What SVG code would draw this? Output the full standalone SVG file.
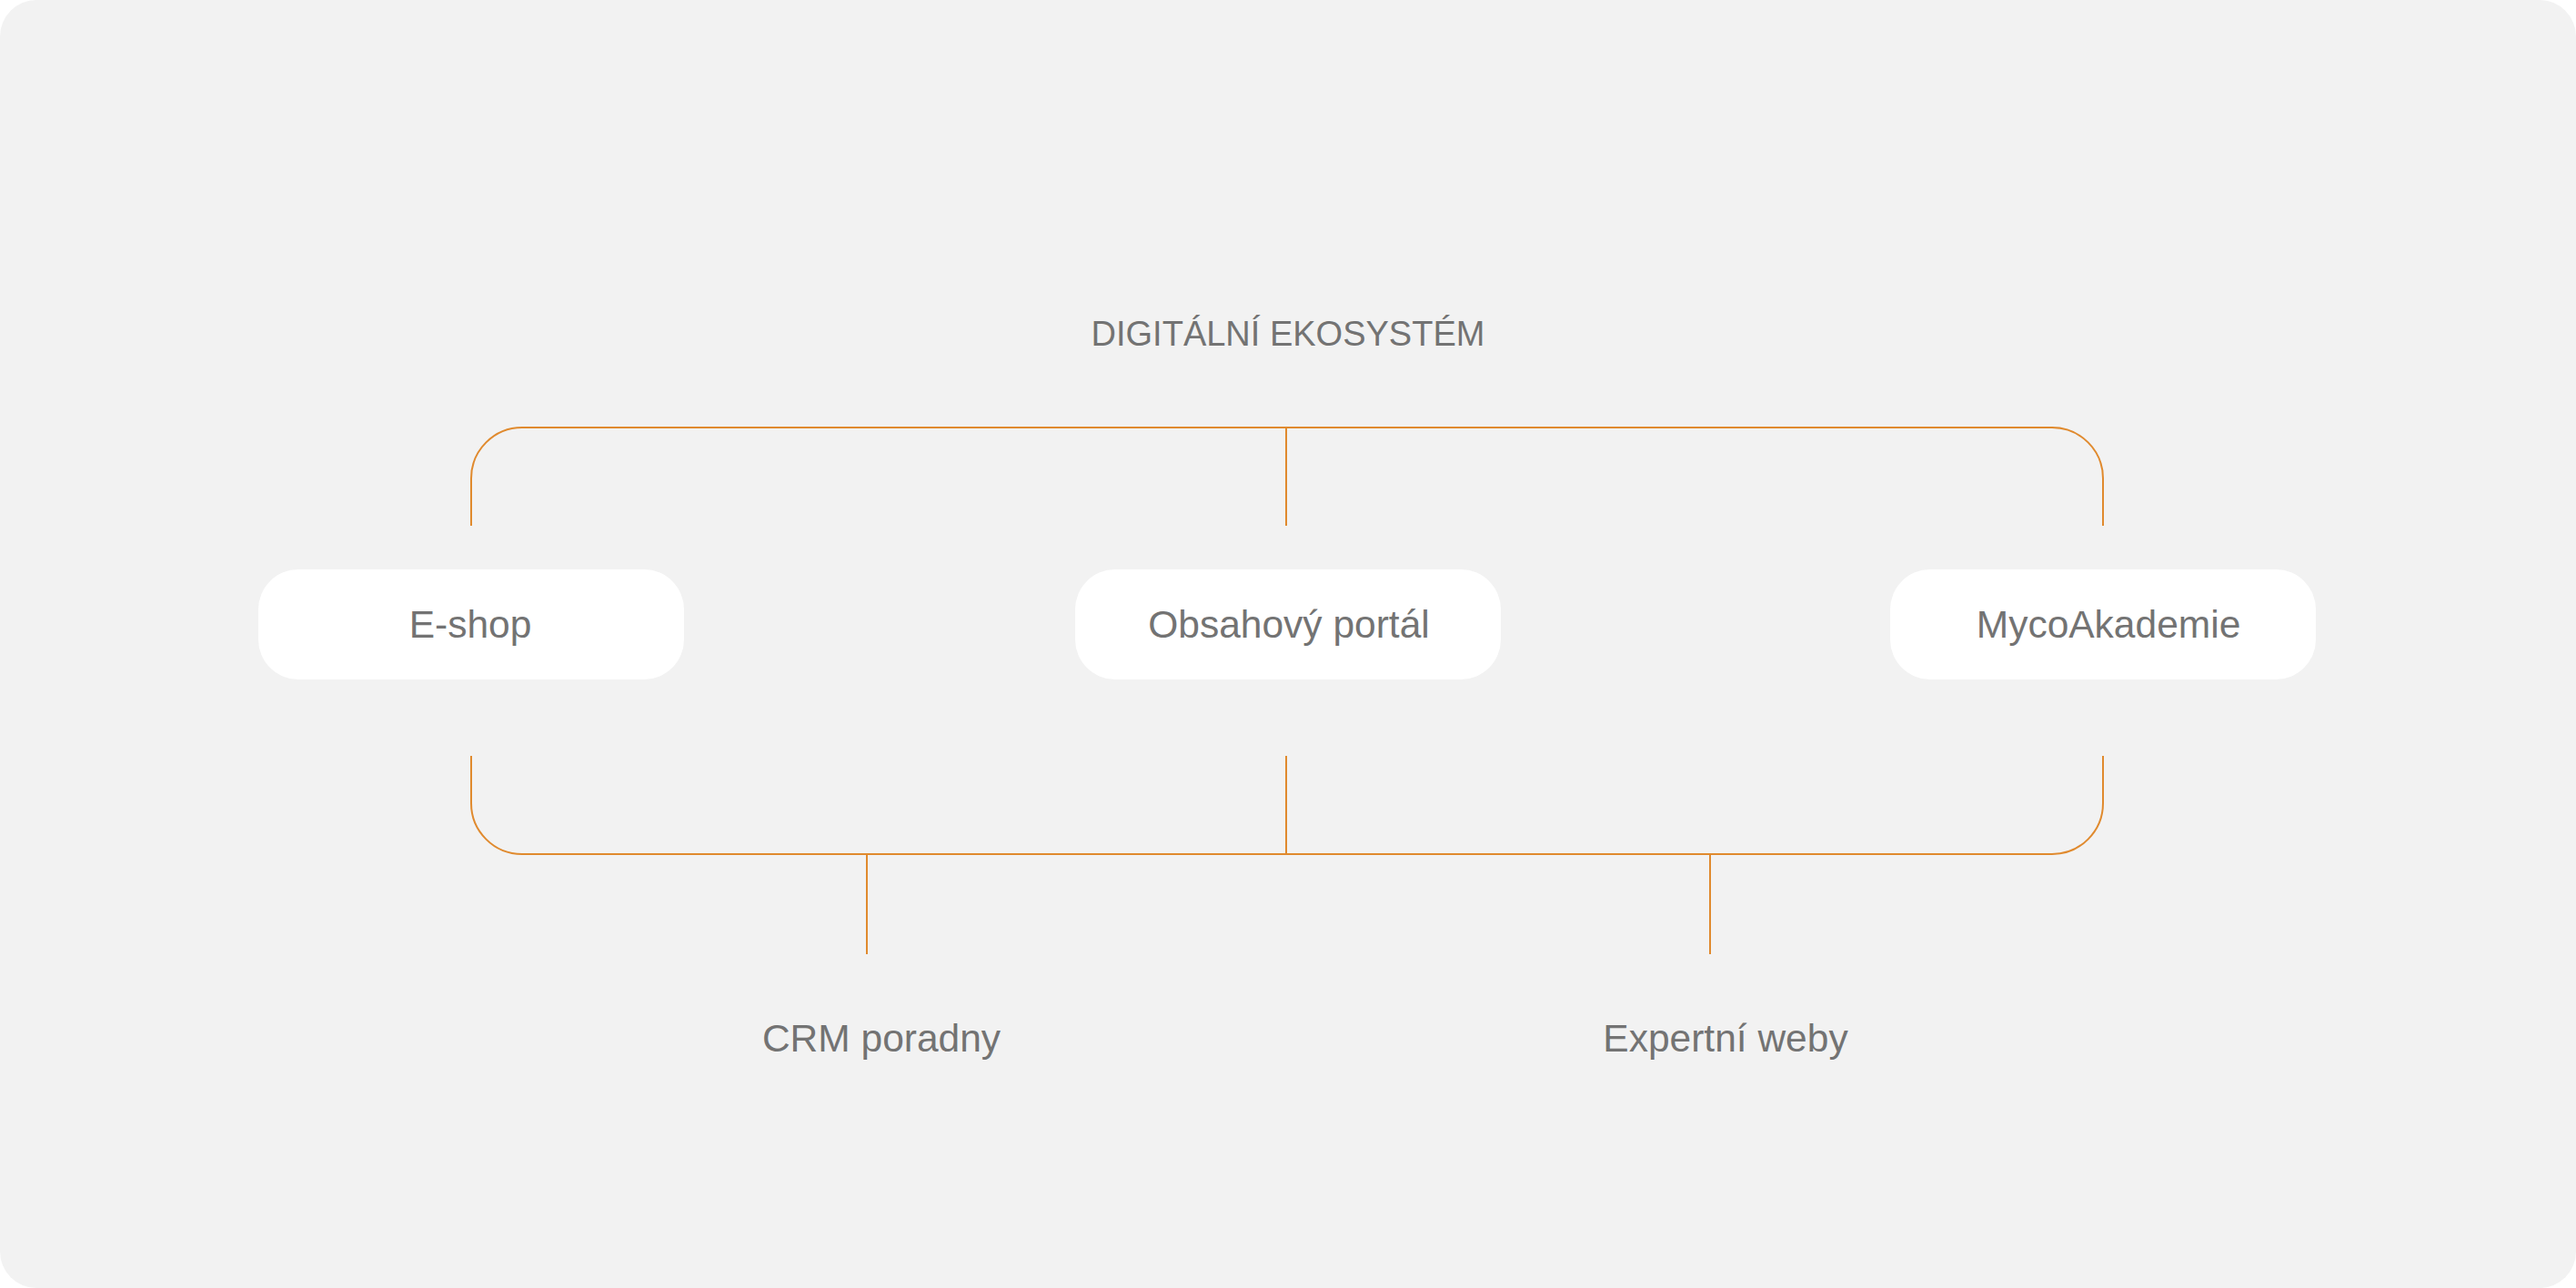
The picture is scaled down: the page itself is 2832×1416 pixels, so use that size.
<svg xmlns="http://www.w3.org/2000/svg" width="2832" height="1416" viewBox="0 0 2832 1416">
<style>
.bg{fill:#f2f2f2}
.node rect{fill:#ffffff}
.lbl{font-family:"Liberation Sans",Arial,sans-serif;font-size:42.5px;fill:#737373;text-anchor:middle}
.title{font-family:"Liberation Sans",Arial,sans-serif;font-size:38px;fill:#737373;text-anchor:middle}
.conn{fill:none;stroke:#E08A2E;stroke-width:2}
</style>
<rect x="0" y="0" width="2832" height="1416" fill="#ffffff"/>
<rect class="bg" x="0" y="0" width="2832" height="1416" rx="40" ry="40"/>
<g id="title"><text class="title" x="1416" y="380">DIGITÁLNÍ EKOSYSTÉM</text></g>
<g id="connectors">
<path class="conn" d="M518 578 V526 A56 56 0 0 1 574 470 H2256 A56 56 0 0 1 2312 526 V578"/>
<path class="conn" d="M1414 470 V578"/>
<path class="conn" d="M518 831 V883 A56 56 0 0 0 574 939 H2256 A56 56 0 0 0 2312 883 V831"/>
<path class="conn" d="M1414 831 V939"/>
<path class="conn" d="M953 939 V1049"/>
<path class="conn" d="M1880 939 V1049"/>
</g>
<g id="node-eshop" class="node"><rect x="284" y="626" width="468" height="121" rx="44" ry="44"/><text class="lbl" x="517" y="701">E-shop</text></g>
<g id="node-portal" class="node"><rect x="1182" y="626" width="468" height="121" rx="44" ry="44"/><text class="lbl" x="1417" y="701">Obsahový portál</text></g>
<g id="node-akademie" class="node"><rect x="2078" y="626" width="468" height="121" rx="44" ry="44"/><text class="lbl" x="2318" y="701">MycoAkademie</text></g>
<g id="node-crm"><text class="lbl" x="969" y="1156">CRM poradny</text></g>
<g id="node-weby"><text class="lbl" x="1897" y="1156">Expertní weby</text></g>
</svg>
